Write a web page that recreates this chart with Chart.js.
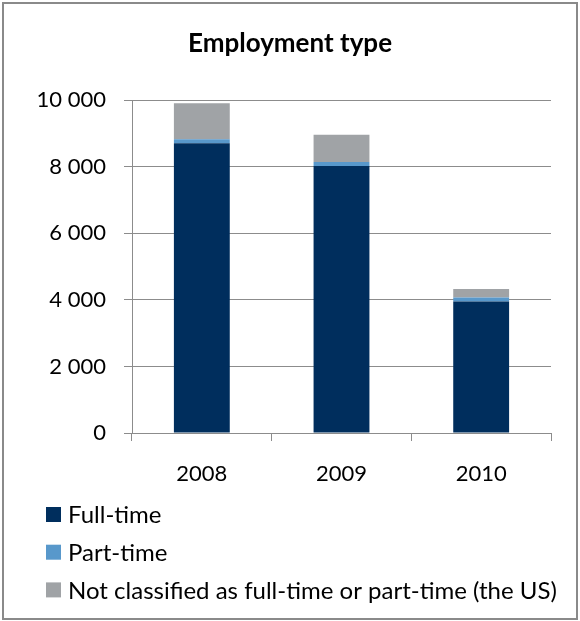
<!DOCTYPE html>
<html>
<head>
<meta charset="utf-8">
<title>Employment type</title>
<script src="https://cdn.jsdelivr.net/npm/chart.js@4"></script>
<style>
  html, body { margin: 0; padding: 0; background: #fff; }
  #wrap { width: 580px; height: 621px; }
</style>
</head>
<body>
<div id="wrap"><canvas id="graficoEmpleo" width="580" height="621"></canvas></div>
<script>
// Datos del gráfico
const years = ['2008', '2009', '2010'];
const fullTime = [8710, 8020, 3950];
const partTime = [120, 120, 120];
const notClassified = [1080, 820, 260];
const yTicks = [0, 2000, 4000, 6000, 8000, 10000];

const seriesLabels = ['Full-time', 'Part-time', 'Not classified as full-time or part-time (the US)'];
const seriesColors = ['#002e5d', '#5898cb', '#a0a3a6'];

const fontFamily = 'Lato, "Open Sans", sans-serif';
const gridColor = '#8c8c8c';

// "10 000" con espacio como separador de miles
const formatNumber = v => String(v).replace(/\B(?=(\d{3})+(?!\d))/g, ' ');

// Fondo blanco y marco gris alrededor de todo el gráfico
const framePlugin = {
    id: 'frame',
    beforeDraw(chart) {
        const ctx = chart.ctx;
        ctx.save();
        ctx.fillStyle = '#fff';
        ctx.fillRect(0, 0, chart.width, chart.height);
        ctx.strokeStyle = '#8a8a8a';
        ctx.lineWidth = 2;
        ctx.strokeRect(3, 3, chart.width - 6, chart.height - 5);
        ctx.restore();
    }
};

// Leyenda en columna, debajo del eje X
const columnLegend = {
    id: 'columnLegend',
    afterDraw(chart, args, opts) {
        const ctx = chart.ctx;
        ctx.save();
        ctx.font = opts.font;
        ctx.textBaseline = 'middle';
        chart.data.datasets.forEach((ds, i) => {
            const y = opts.top + i * opts.rowHeight;
            ctx.fillStyle = ds.backgroundColor;
            ctx.fillRect(opts.left, y - opts.box / 2, opts.box, opts.box);
            ctx.fillStyle = '#000';
            ctx.fillText(ds.label, opts.left + opts.box + 7, y + 1);
        });
        ctx.restore();
    }
};

const datasets = [fullTime, partTime, notClassified].map((values, i) => ({
    label: seriesLabels[i],
    data: values,
    backgroundColor: seriesColors[i],
    borderWidth: 0,
    categoryPercentage: 0.8,
    barPercentage: 0.5
}));

new Chart(document.getElementById('graficoEmpleo'), {
    type: 'bar',
    data: { labels: years, datasets: datasets },
    plugins: [framePlugin, columnLegend],
    options: {
        responsive: false,
        animation: false,
        layout: { padding: { left: 29, right: 29, top: 0, bottom: 128 } },
        plugins: {
            legend: { display: false },
            tooltip: { enabled: false },
            title: {
                display: true,
                text: 'Employment type',
                color: '#000',
                font: { family: fontFamily, size: 26, weight: 'bold', lineHeight: 1.2 },
                padding: { top: 28, bottom: 41 }
            },
            columnLegend: {
                left: 46, top: 514.5, rowHeight: 37.7, box: 15,
                font: '24px ' + fontFamily
            }
        },
        scales: {
            x: {
                stacked: true,
                grid: { display: true, drawOnChartArea: false, offset: true, color: gridColor, tickLength: 8 },
                border: { color: gridColor },
                ticks: { color: '#000', font: { family: fontFamily, size: 22 }, padding: 20 },
                afterFit(scale) { scale.height = 60; }
            },
            y: {
                stacked: true,
                min: 0,
                max: 10000,
                afterBuildTicks(scale) { scale.ticks = yTicks.map(v => ({ value: v })); },
                grid: { color: gridColor, tickLength: 8 },
                border: { color: gridColor },
                ticks: { color: '#000', font: { family: fontFamily, size: 22 }, padding: 18, callback: formatNumber },
                afterFit(scale) { scale.width = 103; }
            }
        }
    }
});
</script>
</body>
</html>
